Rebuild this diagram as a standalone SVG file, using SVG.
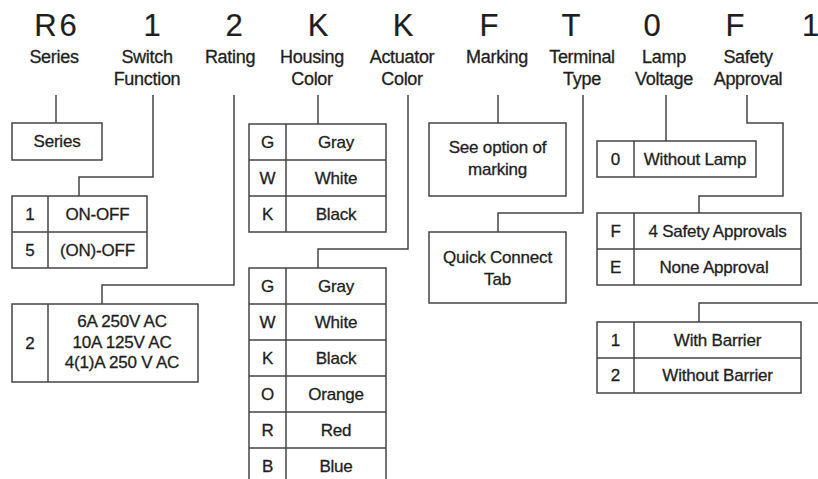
<svg xmlns="http://www.w3.org/2000/svg" width="818" height="479" viewBox="0 0 818 479">
<style>
text{font-family:"Liberation Sans",Arial,sans-serif;fill:#1e1e1e;stroke:#1e1e1e;stroke-width:0.3;text-anchor:middle}
.h{font-size:31px;stroke-width:0.2}
.l{font-size:18px;letter-spacing:-0.3px}
.t{font-size:17px;letter-spacing:-0.2px}
.b{fill:#fff;stroke:#444;stroke-width:1.5}
.d{stroke:#444;stroke-width:1.5;fill:none}
</style>
<rect width="818" height="479" fill="#fff"/>
<g id="header">
<text class="h" x="57" y="36" letter-spacing="3">R6</text>
<text class="h" x="152" y="36">1</text>
<text class="h" x="234" y="36">2</text>
<text class="h" x="318" y="36">K</text>
<text class="h" x="403" y="36">K</text>
<text class="h" x="489" y="36">F</text>
<text class="h" x="571" y="36">T</text>
<text class="h" x="652" y="36">0</text>
<text class="h" x="735" y="36">F</text>
<text class="h" x="802" y="36" style="text-anchor:start">1</text>
</g>
<g id="labels">
<text class="l" x="54" y="63">Series</text>
<text class="l" x="147" y="63">Switch</text>
<text class="l" x="147" y="85">Function</text>
<text class="l" x="230" y="63">Rating</text>
<text class="l" x="312" y="63">Housing</text>
<text class="l" x="312" y="85">Color</text>
<text class="l" x="402" y="63">Actuator</text>
<text class="l" x="402" y="85">Color</text>
<text class="l" x="497" y="63">Marking</text>
<text class="l" x="582" y="63">Terminal</text>
<text class="l" x="582" y="85">Type</text>
<text class="l" x="664" y="63">Lamp</text>
<text class="l" x="664" y="85">Voltage</text>
<text class="l" x="748" y="63">Safety</text>
<text class="l" x="748" y="85">Approval</text>
</g>
<g id="connectors" class="d">
<path class="d" d="M56,95 V123"/>
<path class="d" d="M153,95 V177 H79 V196"/>
<path class="d" d="M234,95 V285 H102 V304"/>
<path class="d" d="M318,95 V124"/>
<path class="d" d="M408,95 V249 H318 V268"/>
<path class="d" d="M498,95 V123"/>
<path class="d" d="M583,95 V213 H498 V232"/>
<path class="d" d="M666,95 V141"/>
<path class="d" d="M747,95 V123 H783 V196 H699 V213"/>
<path class="d" d="M822,303 H699 V322"/>
</g>
<g id="series">
<rect class="b" x="12" y="123" width="90" height="37"/>
<text class="t" x="57" y="147">Series</text>
</g>
<g id="switch-function">
<rect class="b" x="12" y="196" width="135" height="72"/>
<path class="d" d="M48,196 V268 M12,232 H147"/>
<text class="t" x="30" y="220">1</text><text class="t" x="97.5" y="220">ON-OFF</text>
<text class="t" x="30" y="256">5</text><text class="t" x="97.5" y="256">(ON)-OFF</text>
</g>
<g id="rating">
<rect class="b" x="12" y="304" width="186" height="78"/>
<path class="d" d="M48,304 V382"/>
<text class="t" x="30" y="349">2</text>
<text class="t" x="122" y="327">6A 250V AC</text>
<text class="t" x="122" y="348">10A 125V AC</text>
<text class="t" x="122" y="368">4(1)A 250 V AC</text>
</g>
<g id="housing-color">
<rect class="b" x="249" y="124" width="137" height="108"/>
<path class="d" d="M286,124 V232 M249,160 H386 M249,196 H386"/>
<text class="t" x="267.5" y="148">G</text><text class="t" x="336" y="148">Gray</text>
<text class="t" x="267.5" y="184">W</text><text class="t" x="336" y="184">White</text>
<text class="t" x="267.5" y="220">K</text><text class="t" x="336" y="220">Black</text>
</g>
<g id="actuator-color">
<rect class="b" x="249" y="268" width="137" height="216"/>
<path class="d" d="M286,268 V484 M249,304 H386 M249,340 H386 M249,376 H386 M249,412 H386 M249,448 H386"/>
<text class="t" x="267.5" y="292">G</text><text class="t" x="336" y="292">Gray</text>
<text class="t" x="267.5" y="328">W</text><text class="t" x="336" y="328">White</text>
<text class="t" x="267.5" y="364">K</text><text class="t" x="336" y="364">Black</text>
<text class="t" x="267.5" y="400">O</text><text class="t" x="336" y="400">Orange</text>
<text class="t" x="267.5" y="436">R</text><text class="t" x="336" y="436">Red</text>
<text class="t" x="267.5" y="472">B</text><text class="t" x="336" y="472">Blue</text>
</g>
<g id="marking">
<rect class="b" x="429" y="123" width="137" height="73"/>
<text class="t" x="497.5" y="153">See option of</text>
<text class="t" x="497.5" y="175">marking</text>
</g>
<g id="terminal-type">
<rect class="b" x="429" y="232" width="137" height="71"/>
<text class="t" x="497.5" y="263">Quick Connect</text>
<text class="t" x="497.5" y="285">Tab</text>
</g>
<g id="lamp-voltage">
<rect class="b" x="597" y="141" width="159" height="36"/>
<path class="d" d="M634,141 V177"/>
<text class="t" x="615.5" y="165">0</text><text class="t" x="695" y="165">Without Lamp</text>
</g>
<g id="safety-approval">
<rect class="b" x="597" y="213" width="204" height="72"/>
<path class="d" d="M634,213 V285 M597,249 H801"/>
<text class="t" x="615.5" y="237">F</text><text class="t" x="717.5" y="237">4 Safety Approvals</text>
<text class="t" x="615.5" y="273">E</text><text class="t" x="714" y="273">None Approval</text>
</g>
<g id="barrier">
<rect class="b" x="597" y="322" width="204" height="71"/>
<path class="d" d="M634,322 V393 M597,358 H801"/>
<text class="t" x="615.5" y="346">1</text><text class="t" x="717.5" y="346">With Barrier</text>
<text class="t" x="615.5" y="381">2</text><text class="t" x="717.5" y="381">Without Barrier</text>
</g>
</svg>
